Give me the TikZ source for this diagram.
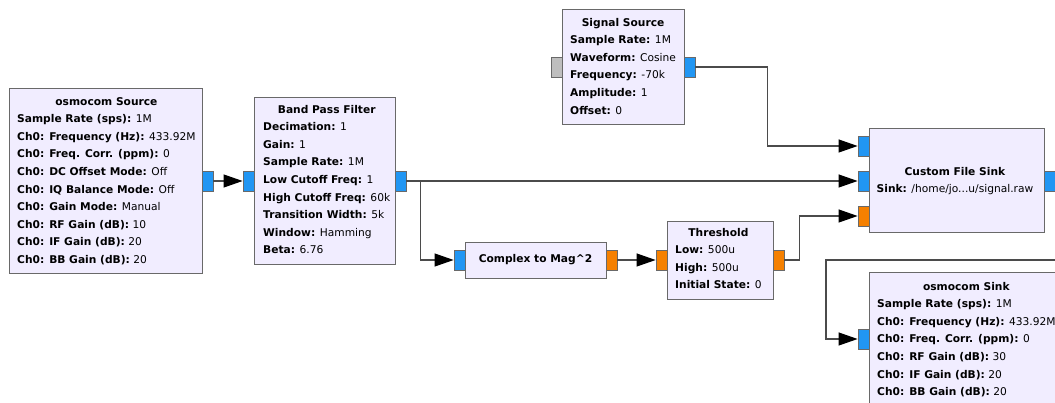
\documentclass[tikz,border=0pt]{standalone}
\usepackage{fontspec}
\setmainfont{DejaVu Sans}
\usetikzlibrary{arrows.meta}
\definecolor{blockfill}{RGB}{241,237,255}
\definecolor{blockedge}{RGB}{105,105,105}
\definecolor{cplx}{RGB}{33,150,243}
\definecolor{flt}{RGB}{245,128,0}
\definecolor{msg}{RGB}{190,190,190}
\definecolor{wirecol}{RGB}{75,75,75}
\newcommand{\prm}[2]{\textbf{#1:} #2}
\newcommand{\ttl}[1]{\multicolumn{1}{@{}c@{}}{\textbf{#1}}}

\begin{document}
\begin{tikzpicture}[x=1pt,y=-1pt,
  block/.style={draw=blockedge, fill=blockfill, line width=1pt, anchor=north west, inner sep=0pt},
  txt/.style={inner sep=0pt, font=\fontsize{10.67}{17.6}\selectfont, text=black},
  port/.style={draw=blockedge, line width=0.8pt, minimum width=11pt, minimum height=20pt, inner sep=0pt},
  cport/.style={port, fill=cplx},
  fport/.style={port, fill=flt},
  mport/.style={port, fill=msg},
  wire/.style={draw=wirecol, line width=1.1pt},
  flow/.style={wire, -{Triangle[length=19pt, width=13pt, color=black]}}
]
\path[use as bounding box] (0,0) rectangle (1055,403);
\fill[white] (0,0) rectangle (1055,403);
\clip (0,0) rectangle (1055,403);

% blocks
\node[block, minimum width=193pt, minimum height=185pt] (src) at (9,88) {};
\node[block, minimum width=141pt, minimum height=167pt] (bpf) at (254,97) {};
\node[block, minimum width=122pt, minimum height=115pt] (ss) at (562,9) {};
\node[block, minimum width=175pt, minimum height=104pt] (cfs) at (869,128) {};
\node[block, minimum width=141pt, minimum height=36pt] (c2m) at (465,242) {};
\node[block, minimum width=106pt, minimum height=78pt] (thr) at (667,221) {};
\node[block, minimum width=193pt, minimum height=190pt] (sink) at (869,272) {};

% block texts
\node[txt, anchor=north west] (srctxt) at (17,92.6) {\begin{tabular}{@{}l@{}}
\ttl{osmocom Source}\\
\prm{Sample Rate (sps)}{1M}\\
\prm{Ch0: Frequency (Hz)}{433.92M}\\
\prm{Ch0: Freq. Corr. (ppm)}{0}\\
\prm{Ch0: DC Offset Mode}{Off}\\
\prm{Ch0: IQ Balance Mode}{Off}\\
\prm{Ch0: Gain Mode}{Manual}\\
\prm{Ch0: RF Gain (dB)}{10}\\
\prm{Ch0: IF Gain (dB)}{20}\\
\prm{Ch0: BB Gain (dB)}{20}
\end{tabular}};

\node[txt, anchor=north west] (bpftxt) at (263,100.6) {\begin{tabular}{@{}l@{}}
\ttl{Band Pass Filter}\\
\prm{Decimation}{1}\\
\prm{Gain}{1}\\
\prm{Sample Rate}{1M}\\
\prm{Low Cutoff Freq}{1}\\
\prm{High Cutoff Freq}{60k}\\
\prm{Transition Width}{5k}\\
\prm{Window}{Hamming}\\
\prm{Beta}{6.76}
\end{tabular}};

\node[txt, anchor=north west] (sstxt) at (570,13.6) {\begin{tabular}{@{}l@{}}
\ttl{Signal Source}\\
\prm{Sample Rate}{1M}\\
\prm{Waveform}{Cosine}\\
\prm{Frequency}{-70k}\\
\prm{Amplitude}{1}\\
\prm{Offset}{0}
\end{tabular}};

\node[txt] (cfstxt) at (955,180.5) {\begin{tabular}{@{}c@{}}
\textbf{Custom File Sink}\\
\prm{Sink}{/home/jo...u/signal.raw}
\end{tabular}};

\node[txt] (c2mtxt) at (535.5,260) {\textbf{Complex to Mag\textasciicircum 2}};

\node[txt, anchor=north west] (thrtxt) at (675,223.6) {\begin{tabular}{@{}l@{}}
\ttl{Threshold}\\
\prm{Low}{500u}\\
\prm{High}{500u}\\
\prm{Initial State}{0}
\end{tabular}};

\node[txt, anchor=north west] (sinktxt) at (877,277.6) {\begin{tabular}{@{}l@{}}
\ttl{osmocom Sink}\\
\prm{Sample Rate (sps)}{1M}\\
\prm{Ch0: Frequency (Hz)}{433.92M}\\
\prm{Ch0: Freq. Corr. (ppm)}{0}\\
\prm{Ch0: RF Gain (dB)}{30}\\
\prm{Ch0: IF Gain (dB)}{20}\\
\prm{Ch0: BB Gain (dB)}{20}
\end{tabular}};

% ports
\node[cport] (srcout) at (207.5,181) {};
\node[cport] (bpfin)  at (248.5,181) {};
\node[cport] (bpfout) at (400.5,181) {};
\node[mport] (ssin)   at (556.5,67) {};
\node[cport] (ssout)  at (689.5,67) {};
\node[cport] (cfsin1) at (863.5,146) {};
\node[cport] (cfsin2) at (863.5,181) {};
\node[fport] (cfsin3) at (863.5,216) {};
\node[cport] (cfsout) at (1049.5,181) {};
\node[cport] (c2min)  at (459.5,260) {};
\node[fport] (c2mout) at (611.5,260) {};
\node[fport] (thrin)  at (661.5,260) {};
\node[fport] (throut) at (778.5,260) {};
\node[cport] (sinkin) at (863.5,339) {};

% connections
\coordinate (fbturn) at (826,260);
\draw[flow] (srcout.east) -- (bpfin.west);
\draw[flow] (bpfout.east) -- (cfsin2.west);
\draw[flow] (bpfout.east) -- ++(14.5,0) |- (c2min.west);
\draw[flow] (ssout.east) -- ++(72,0) |- (cfsin1.west);
\draw[flow] (c2mout.east) -- (thrin.west);
\draw[flow] (throut.east) -- ++(15,0) |- (cfsin3.west);
\draw[flow] (cfsout.east) -- ++(12,0) |- (fbturn) |- (sinkin.west);
\end{tikzpicture}
\end{document}
